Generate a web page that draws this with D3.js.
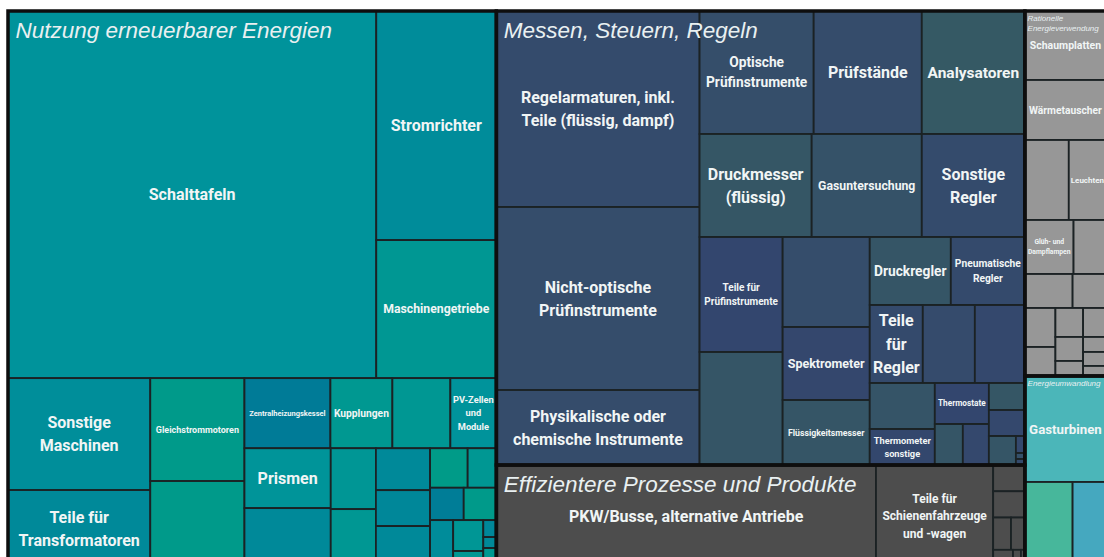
<!DOCTYPE html>
<html>
<head>
<meta charset="utf-8">
<script src="https://cdn.jsdelivr.net/npm/d3@7"></script>
<style>
  body { margin: 0; background: #fff; }
  svg { display: block; }
</style>
</head>
<body>
<svg id="chart" width="1104" height="557"></svg>
<script>
// treemap of product groups, values = box areas

var groupTitles = ["Nutzung erneuerbarer Energien", "Messen, Steuern, Regeln", "Effizientere Prozesse und Produkte", "Rationelle Energieverwendung", "Energieumwandlung"];

// Nutzung erneuerbarer Energien
var renewNames = ["Schalttafeln", "Stromrichter", "Maschinengetriebe", "Sonstige Maschinen", "Teile für Transformatoren",
    "Gleichstrommotoren", "", "Zentralheizungskessel", "Kupplungen", "", "PV-Zellen und Module", "Prismen", "",
    "", "", "", "", "", "", "", "", "", "", "", "", "", "", ""];
var renewValues = [135056, 27480, 16560, 15904, 10934, 9682, 8084, 6020, 4340, 4060, 3220, 5160, 5074,
    2745, 2610, 2268, 1944, 2214, 1482, 1131, 1088, 1056, 1081, 930, 480, 221, 143, 247];
var renewShade = [.5, .35, .7, .4, .3, .9, .9, 0, .75, .7, .5, .55, .3,
    .65, .7, .3, .25, .3, .95, .7, .05, .9, .35, .65, .7, .25, .3, .75];
var renewLayout = ["v", ["h", 0, ["v", 1, 2]],
    ["h", ["v", 3, 4], ["v", 5, 6],
        ["v", ["h", 7, 8, 9, 10],
            ["h", ["v", 11, 12], ["v", 13, 14], ["v", 15, 16, 17],
                ["v", ["h", 18, 19], ["h", 20, 21], ["h", 22, ["v", 23, 24], ["v", 25, 26, 27]]]]]]];

// Messen, Steuern, Regeln
var msrNames = ["Regelarmaturen, inkl. Teile (flüssig, dampf)", "Nicht-optische Prüfinstrumente", "Physikalische oder chemische Instrumente",
    "Optische Prüfinstrumente", "Prüfstände", "Analysatoren", "Druckmesser (flüssig)", "Gasuntersuchung", "Sonstige Regler",
    "Teile für Prüfinstrumente", "", "", "Spektrometer", "Flüssigkeitsmesser", "Druckregler", "Pneumatische Regler",
    "Teile für Regler", "", "", "", "Thermometer sonstige", "Thermostate", "", "", "", "", "", "", "", ""];
var msrValues = [39788, 37149, 15225, 14022, 13284, 12669, 11536, 11330, 10609, 9545, 9379, 7830, 6351, 5655,
    5508, 5032, 4134, 4056, 3900, 2990, 2340, 2214, 1148, 1066, 972, 936, 783, 153, 54, 54];
var msrShade = [.35, .5, .45, .55, .45, .95, .85, .7, .35, .05, .8, .5, .15, .8,
    .8, .3, .3, .4, .2, .75, .1, .05, .8, .2, .85, .2, .8, .2, .6, .3];
var msrLayout = ["h", ["v", 0, 1, 2],
    ["v", ["h", 3, 4, 5], ["h", 6, 7, 8],
        ["h", ["v", 9, 10], ["v", 11, 12, 13],
            ["v", ["h", 14, 15], ["h", 16, 17, 18],
                ["h", ["v", 19, 20], ["v", 21, ["h", 22, 23]], ["v", 24, 25, ["h", 26, ["v", 27, 28, 29]]]]]]]];

// Effizientere Prozesse und Produkte
var effNames = ["PKW/Busse, alternative Antriebe", "Teile für Schienenfahrzeuge und -wagen", "", "", "", "", "", "", ""];
var effValues = [38658, 11934, 832, 832, 576, 448, 340, 136, 68];
var effShade = [.5, .5, .5, .5, .5, .5, .5, .5, .5];
var effLayout = ["h", 0, 1, ["v", 2, 3, ["h", 4, 5], ["h", 6, 7, 8]]];

// Rationelle Energieverwendung
var ratNames = ["Schaumplatten", "Wärmetauscher", "", "Leuchten", "Glüh- und Dampflampen", "", "", "",
    "", "", "", "", "", "", "", "", ""];
var ratValues = [5589, 4860, 3507, 2973, 2625, 1750, 1620, 1134, 1189, 884, 801, 663, 415, 663, 343, 320, 229];
var ratShade = [.5, .5, .5, .5, .5, .5, .5, .5, .5, .5, .5, .5, .5, .5, .5, .5, .5];
var ratLayout = ["v", 0, 1, ["h", 2, 3], ["h", 4, 5], ["h", 6, 7],
    ["h", ["v", 8, 9], ["v", 10, 11, 12], ["v", 13, 14, 15, 16]]];

// Energieumwandlung
var convNames = ["Gasturbinen", "", ""];
var convValues = [8587, 4050, 2835];
var convShade = [.5, 1, 0];
var convLayout = ["v", 0, ["h", 1, 2]];

var allNames = [renewNames, msrNames, effNames, ratNames, convNames];
var allValues = [renewValues, msrValues, effValues, ratValues, convValues];
var allShades = [renewShade, msrShade, effShade, ratShade, convShade];
var allLayouts = [renewLayout, msrLayout, effLayout, ratLayout, convLayout];

var groupColors = [
    ["#007b97", "#00939b", "#009c86"],
    ["#33456e", "#354d6b", "#355a63"],
    ["#4b4b4b", "#4d4d4d", "#4f4f4f"],
    ["#959595", "#979797", "#999999"],
    ["#45a8bf", "#4bb6b9", "#47b79b"]
];
var colorScales = groupColors.map(function(c) { return d3.scaleLinear().domain([0, .5, 1]).range(c); });

var svg = d3.select("#chart"),
    margin = {top: 11, left: 8},
    width = 1098,
    height = 556;

// turn a layout spec into hierarchy data
function build(spec, gi) {
    if (typeof spec === "number")
        return {name: allNames[gi][spec], value: allValues[gi][spec], shade: allShades[gi][spec], group: gi};
    return {dir: spec[0], children: spec.slice(1).map(function(s) { return build(s, gi); })};
}

var groupNodes = groupTitles.map(function(t, gi) {
    var n = build(allLayouts[gi], gi);
    n.title = t;
    n.group = gi;
    return n;
});
var rootData = {dir: "h", children: [
    groupNodes[0],
    {dir: "v", children: [groupNodes[1], groupNodes[2]]},
    {dir: "v", children: [groupNodes[3], groupNodes[4]]}
]};

// rows stacked (v) or side by side (h)
function tile(node, x0, y0, x1, y1) {
    (node.data.dir === "v" ? d3.treemapSlice : d3.treemapDice)(node, x0, y0, x1, y1);
}

var root = d3.hierarchy(rootData).sum(function(d) { return d.value; });
d3.treemap().tile(tile).size([width, height]).round(false)(root);

var g = svg.append("g").attr("transform", "translate(" + margin.left + "," + margin.top + ")");

// cells
g.selectAll(".cell")
    .data(root.leaves())
  .enter().append("rect")
    .attr("class", "cell")
    .attr("x", function(d) { return d.x0; })
    .attr("y", function(d) { return d.y0; })
    .attr("width", function(d) { return d.x1 - d.x0; })
    .attr("height", function(d) { return d.y1 - d.y0; })
    .attr("fill", function(d) { return colorScales[d.data.group](d.data.shade); })
    .attr("stroke", "#1b2224")
    .attr("stroke-width", 1.8);

// text measuring
var ctx = document.createElement("canvas").getContext("2d");
function measure(s, font) { ctx.font = font; return ctx.measureText(s).width; }

function wrap(words, font, maxW) {
    var lines = [], cur = "";
    words.forEach(function(w) {
        var t = cur ? cur + " " + w : w;
        if (!cur || measure(t, font) <= maxW) cur = t;
        else { lines.push(cur); cur = w; }
    });
    if (cur) lines.push(cur);
    return lines;
}

function fit(name, w, h, maxSize, fontFn, pad, lh) {
    var words = name.split(" ");
    for (var size = maxSize; size >= 4; size -= 0.25) {
        var font = fontFn(size);
        var lines = wrap(words, font, w - 2 * pad);
        var widest = d3.max(lines, function(l) { return measure(l, font); });
        if (widest <= w - 2 * pad && lines.length * size * lh <= h - 2) return {size: size, lines: lines};
    }
    return null;
}

var labelFont = function(s) { return "bold " + s + "px Roboto"; };

// cell labels
root.leaves().filter(function(d) { return d.data.name; }).forEach(function(d) {
    var w = d.x1 - d.x0, h = d.y1 - d.y0;
    var f = fit(d.data.name, w, h, 16, labelFont, Math.min(8, w * 0.05), 1.45);
    if (!f) return;
    var cx = (d.x0 + d.x1) / 2, cy = (d.y0 + d.y1) / 2;
    var t = g.append("text")
        .attr("text-anchor", "middle")
        .style("font", labelFont(f.size))
        .attr("fill", "#f1f5f5");
    f.lines.forEach(function(l, i) {
        t.append("tspan")
            .attr("x", cx)
            .attr("y", cy + (i - (f.lines.length - 1) / 2) * f.size * 1.45)
            .attr("dy", "0.35em")
            .text(l);
    });
});

// group frames and titles
var groups = root.descendants().filter(function(d) { return d.data.title; });

g.selectAll(".group")
    .data(groups)
  .enter().append("rect")
    .attr("class", "group")
    .attr("x", function(d) { return d.x0; })
    .attr("y", function(d) { return d.y0; })
    .attr("width", function(d) { return d.x1 - d.x0; })
    .attr("height", function(d) { return d.y1 - d.y0; })
    .attr("fill", "none")
    .attr("stroke", "#0e0e0e")
    .attr("stroke-width", 3.5);

var titleFont = function(s) { return "italic " + s + "px 'Liberation Sans', Arial, sans-serif"; };

groups.forEach(function(d) {
    var w = d.x1 - d.x0;
    var f = fit(d.data.title, w, 200, 22.5, titleFont, 4, 1.3);
    var t = g.append("text")
        .style("font", titleFont(f.size))
        .attr("fill", "#e9f0f1");
    f.lines.forEach(function(l, i) {
        t.append("tspan")
            .attr("x", d.x0 + f.size / 3)
            .attr("y", d.y0 + f.size * 1.2 + i * f.size * 1.3)
            .text(l);
    });
});
</script>
</body>
</html>
